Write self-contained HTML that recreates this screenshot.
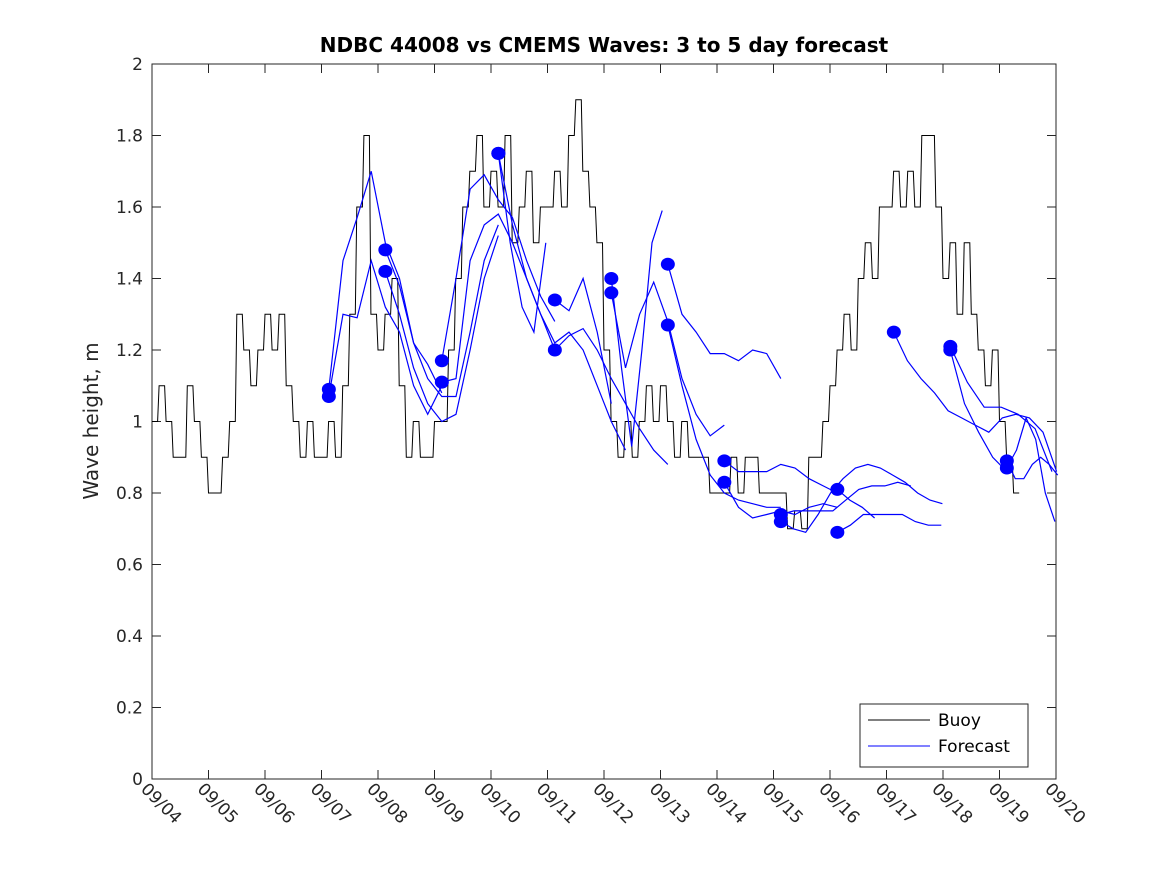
<!DOCTYPE html>
<html><head><meta charset="utf-8"><style>
html,body{margin:0;padding:0;background:#fff;}
svg{display:block;font-family:"DejaVu Sans","Liberation Sans",sans-serif;}
</style></head><body>
<svg id="chart" width="1167" height="875" viewBox="0 0 1167 875">
<rect x="0" y="0" width="1167" height="875" fill="#fff"/>
<text x="604" y="52" text-anchor="middle" font-size="20" font-weight="bold" fill="#000">NDBC 44008 vs CMEMS Waves: 3 to 5 day forecast</text>
<text transform="translate(98,421) rotate(-90)" text-anchor="middle" font-size="20" fill="#262626">Wave height, m</text>
<g id="axes"></g>
<g id="series"></g>
<g id="legend">
<rect x="860" y="704" width="168" height="63" fill="#fff" stroke="#262626" stroke-width="1"/>
<line x1="868" y1="720" x2="930" y2="720" stroke="#000" stroke-width="1"/>
<text x="938" y="726" font-size="17" fill="#000">Buoy</text>
<line x1="868" y1="746" x2="930" y2="746" stroke="#0000ff" stroke-width="1"/>
<text x="938" y="752" font-size="17" fill="#000">Forecast</text>
</g>
</svg>
<script>
const xTickLabels = ["09/04","09/05","09/06","09/07","09/08","09/09","09/10","09/11","09/12","09/13","09/14","09/15","09/16","09/17","09/18","09/19","09/20"];
const yTicks = [0,0.2,0.4,0.6,0.8,1,1.2,1.4,1.6,1.8,2];
const yTickLabels = ["0","0.2","0.4","0.6","0.8","1","1.2","1.4","1.6","1.8","2"];
const buoyStep = 0.125;
const buoyValues = [
1.0,1.1,1.0,0.9,0.9,1.1,1.0,0.9,
0.8,0.8,0.9,1.0,1.3,1.2,1.1,1.2,
1.3,1.2,1.3,1.1,1.0,0.9,1.0,0.9,
0.9,1.0,0.9,1.1,1.3,1.6,1.8,1.3,
1.2,1.3,1.4,1.1,0.9,1.0,0.9,0.9,
1.0,1.0,1.2,1.4,1.6,1.7,1.8,1.6,
1.7,1.6,1.8,1.5,1.6,1.7,1.5,1.6,
1.6,1.7,1.6,1.8,1.9,1.7,1.6,1.5,
1.2,1.0,0.9,1.0,0.9,1.0,1.1,1.0,
1.1,1.0,0.9,1.0,0.9,0.9,0.9,0.8,
0.8,0.8,0.9,0.8,0.9,0.9,0.8,0.8,
0.8,0.8,0.7,0.75,0.7,0.9,0.9,1.0,
1.1,1.2,1.3,1.2,1.4,1.5,1.4,1.6,
1.6,1.7,1.6,1.7,1.6,1.8,1.8,1.6,
1.4,1.5,1.3,1.5,1.3,1.2,1.1,1.2,
1.0,0.9,0.8];
const fcStart = [3.13,3.13,4.13,4.13,5.13,5.13,6.13,6.13,7.13,7.13,8.13,8.13,9.13,9.13,10.13,10.13,11.13,11.13,12.13,12.13,13.13,14.13,14.13,15.13,15.13];
const fcStep  = [0.25,0.25,0.25,0.25,0.25,0.25,0.21,0.25,0.25,0.25,0.18,0.25,0.25,0.25,0.25,0.25,0.23,0.22,0.22,0.23,0.24,0.3,0.25,0.15,0.17];
const fcValues = [
[1.09,1.45,1.57,1.70,1.50,1.40,1.22,1.16,1.08],
[1.07,1.30,1.29,1.45,1.32,1.25,1.10,1.02,1.10],
[1.48,1.38,1.22,1.12,1.07,1.07,1.25,1.45,1.55],
[1.42,1.30,1.15,1.05,1.00,1.02,1.20,1.40,1.52],
[1.17,1.40,1.65,1.69,1.62,1.57,1.45,1.35,1.28],
[1.11,1.12,1.45,1.55,1.58,1.50,1.40,1.30,1.20],
[1.75,1.50,1.32,1.25,1.50],
[1.75,1.55,1.40,1.30,1.22,1.25,1.20,1.10,1.00,0.92],
[1.34,1.31,1.40,1.25,1.05],
[1.20,1.24,1.26,1.20,1.12,1.05,0.98,0.92,0.88],
[1.40,1.15,0.93,1.20,1.50,1.59],
[1.36,1.15,1.30,1.39,1.28,1.12,1.02,0.96,0.99],
[1.44,1.30,1.25,1.19,1.19,1.17,1.20,1.19,1.12],
[1.27,1.10,0.95,0.85,0.80,0.78,0.77,0.76,0.76],
[0.89,0.86,0.86,0.86,0.88,0.87,0.84,0.82,0.80],
[0.83,0.76,0.73,0.74,0.75,0.74,0.76,0.77,0.76],
[0.74,0.75,0.75,0.75,0.75,0.78,0.81,0.82,0.82,0.83,0.82],
[0.72,0.70,0.69,0.74,0.80,0.84,0.87,0.88,0.87,0.85,0.83,0.80,0.78,0.77],
[0.81,0.78,0.76,0.73],
[0.69,0.71,0.74,0.74,0.74,0.74,0.72,0.71,0.71],
[1.25,1.17,1.12,1.08,1.03,1.01,0.99,0.97,1.01,1.02,1.01,0.97,0.86],
[1.21,1.11,1.04,1.04,1.02,0.98,0.86],
[1.20,1.05,0.97,0.90,0.86],
[0.89,0.84,0.84,0.88,0.90,0.88,0.85],
[0.87,0.92,1.01,0.95,0.80,0.72]];

const X0=152, X1=1056, Y0=779, Y1=64;
const NS="http://www.w3.org/2000/svg";
function xs(d){return X0+(X1-X0)*d/16;}
function ys(v){return Y0-(Y0-Y1)*v/2;}
function mk(tag,attrs,parent){const e=document.createElementNS(NS,tag);for(const k in attrs)e.setAttribute(k,attrs[k]);parent.appendChild(e);return e;}
const axes=document.getElementById('axes'), series=document.getElementById('series');
const box=mk('rect',{x:X0,y:Y1,width:X1-X0,height:Y0-Y1,fill:'none',stroke:'#262626','stroke-width':1},axes);


xTickLabels.forEach((lab,i)=>{
  const x=xs(i);
  const t1=mk('line',{x1:x,y1:Y0,x2:x,y2:Y0-9,stroke:'#262626'},axes);
  
  
  const t2=mk('line',{x1:x,y1:Y1,x2:x,y2:Y1+9,stroke:'#262626'},axes);
  
  
  const tx=mk('text',{transform:`translate(${x-12},${790}) rotate(45)`,'font-size':17,fill:'#262626'},axes);
  tx.textContent=lab;
  
  
});
yTicks.forEach((v,i)=>{
  const y=ys(v);
  const t1=mk('line',{x1:X0,y1:y,x2:X0+9,y2:y,stroke:'#262626'},axes);
  
  
  const t2=mk('line',{x1:X1,y1:y,x2:X1-9,y2:y,stroke:'#262626'},axes);
  
  
  const tx=mk('text',{x:X0-9,y:y+6,'text-anchor':'end','font-size':17,fill:'#262626'},axes);
  tx.textContent=yTickLabels[i];
  
  
});
let bpts=[];
buoyValues.forEach((v,i)=>{
  const xa=xs(i*buoyStep), xb=xs((i+1)*buoyStep)-1.5, y=ys(v);
  bpts.push(xa.toFixed(1)+','+y.toFixed(1));
  bpts.push(xb.toFixed(1)+','+y.toFixed(1));
});
const bl=mk('polyline',{points:bpts.join(' '),fill:'none',stroke:'#000','stroke-width':1},series);


fcValues.forEach((vals,k)=>{
  const pts=vals.map((v,i)=>xs(fcStart[k]+i*fcStep[k]).toFixed(1)+','+ys(v).toFixed(1)).join(' ');
  const pl=mk('polyline',{points:pts,fill:'none',stroke:'#0000ff','stroke-width':1.2},series);
  
  
});
fcValues.forEach((vals,k)=>{
  const c=mk('ellipse',{cx:xs(fcStart[k]),cy:ys(vals[0]),rx:7,ry:6.5,fill:'#0000ff'},series);
  
  
});
</script>
</body></html>
